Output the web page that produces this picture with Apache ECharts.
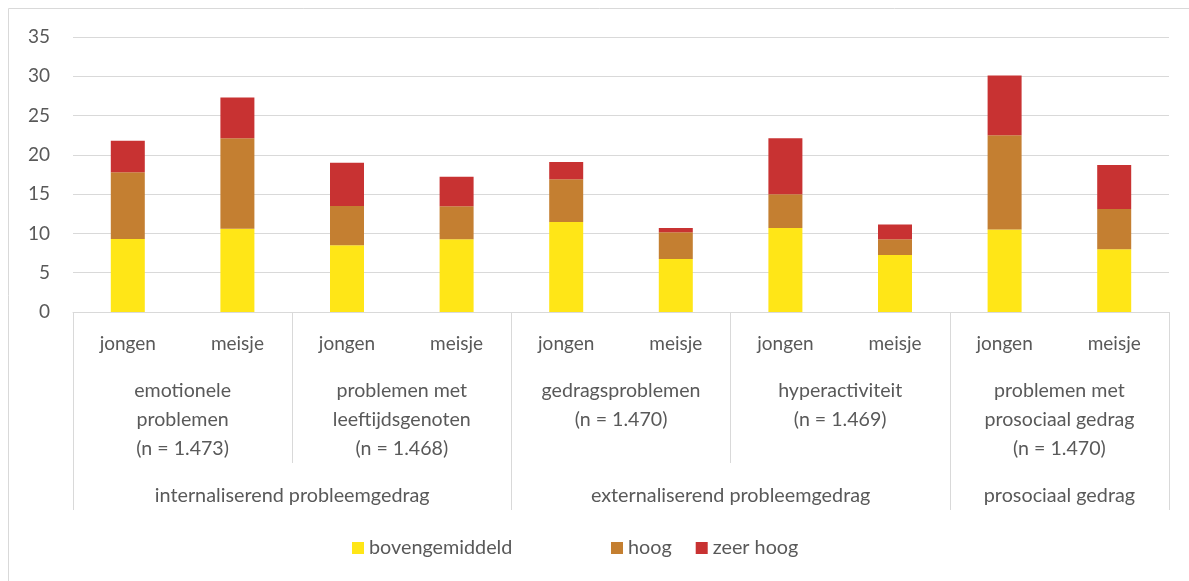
<!DOCTYPE html>
<html>
<head>
<meta charset="utf-8">
<script src="https://cdn.jsdelivr.net/npm/echarts@6/dist/echarts.min.js"></script>
<style>
  html, body { margin: 0; padding: 0; background: #fff; }
  #chart { width: 1189px; height: 581px; }
</style>
</head>
<body>
<div id="chart"></div>
<script>
// categories
var genders = ["jongen", "meisje", "jongen", "meisje", "jongen", "meisje", "jongen", "meisje", "jongen", "meisje"];
var scales = [
  "emotionele\nproblemen\n(n = 1.473)",
  "problemen met\nleeftijdsgenoten\n(n = 1.468)",
  "gedragsproblemen\n(n = 1.470)",
  "hyperactiviteit\n(n = 1.469)",
  "problemen met\nprosociaal gedrag\n(n = 1.470)"
];
var domains = ["internaliserend probleemgedrag", "externaliserend probleemgedrag", "prosociaal gedrag"];
var domainCenters = [2, 6, 9];
var domainBounds = [0, 4, 8, 10];

// series values (%)
var bovengemiddeld = [9.3, 10.6, 8.5, 9.25, 11.45, 6.75, 10.7, 7.25, 10.5, 8.0];
var hoog = [8.5, 11.5, 5.0, 4.2, 5.45, 3.4, 4.3, 2.0, 12.0, 5.1];
var zeerHoog = [4.0, 5.2, 5.5, 3.75, 2.2, 0.55, 7.1, 1.9, 7.6, 5.6];

var yTicks = [0, 5, 10, 15, 20, 25, 30, 35];

var FONT = "Lato";
var TXT = "#595959";
var GRIDC = "#d9d9d9";

var chart = echarts.init(document.getElementById("chart"));

function bar(name, data, color) {
  return {
    name: name,
    type: "bar",
    stack: "total",
    barWidth: 34,
    xAxisIndex: 0,
    itemStyle: { color: color },
    data: data
  };
}

chart.setOption({
  animation: false,
  textStyle: { fontFamily: FONT },
  graphic: [{
    type: "rect",
    shape: { x: 8.5, y: 8.5, width: 1300, height: 700 },
    style: { fill: null, stroke: GRIDC, lineWidth: 1 },
    silent: true
  }],
  grid: { left: 73, right: 20, top: 37, bottom: 269 },
  legend: [{
    left: 347, top: 533,
    itemWidth: 12, itemHeight: 12, itemGap: 24,
    icon: "rect",
    data: ["bovengemiddeld"],
    textStyle: { color: TXT, fontSize: 19.8, fontFamily: FONT }
  }, {
    left: 606, top: 533,
    itemWidth: 12, itemHeight: 12, itemGap: 24,
    icon: "rect",
    data: ["hoog", "zeer hoog"],
    textStyle: { color: TXT, fontSize: 19.8, fontFamily: FONT }
  }],
  xAxis: [{
    type: "category",
    position: "bottom",
    data: genders,
    axisLine: { lineStyle: { color: GRIDC, width: 1 } },
    axisTick: { show: false },
    axisLabel: { interval: 0, color: TXT, fontSize: 19, margin: 22, fontFamily: FONT }
  }, {
    type: "category",
    position: "bottom",
    data: scales,
    axisLine: { show: false },
    axisTick: { show: true, interval: 0, length: 151, lineStyle: { color: GRIDC } },
    axisLabel: { interval: 0, color: TXT, fontSize: 19.6, lineHeight: 29, margin: 64, fontFamily: FONT }
  }, {
    type: "value",
    position: "bottom",
    min: 0, max: 10,
    axisLine: { show: false },
    splitLine: { show: false },
    axisTick: { show: true, customValues: domainBounds, length: 198, lineStyle: { color: GRIDC } },
    axisLabel: {
      customValues: domainCenters,
      color: TXT, fontSize: 19.8, margin: 174, fontFamily: FONT,
      formatter: function (v) {
        var i = domainCenters.indexOf(v);
        return i >= 0 ? domains[i] : "";
      }
    }
  }],
  yAxis: {
    type: "value",
    min: yTicks[0],
    max: yTicks[yTicks.length - 1],
    interval: 5,
    axisLine: { show: false },
    axisTick: { show: false },
    splitLine: { lineStyle: { color: GRIDC, width: 1 } },
    axisLabel: { color: TXT, fontSize: 19, margin: 23, fontFamily: FONT }
  },
  series: [
    bar("bovengemiddeld", bovengemiddeld, "#FFE617"),
    bar("hoog", hoog, "#C47F31"),
    bar("zeer hoog", zeerHoog, "#C83232")
  ]
});
</script>
</body>
</html>
